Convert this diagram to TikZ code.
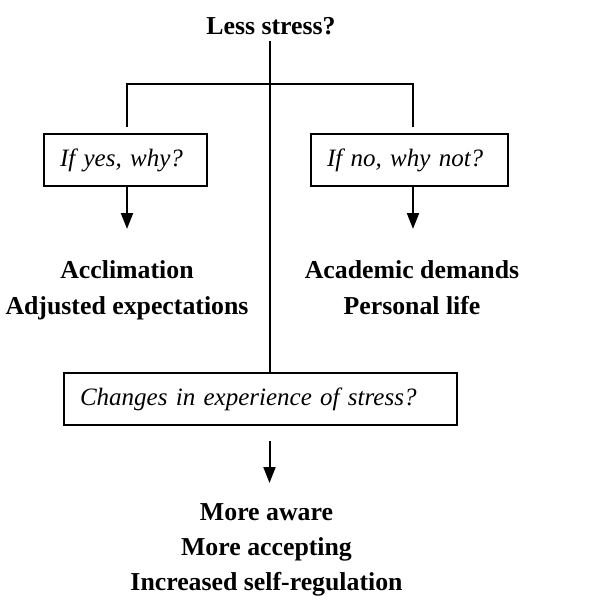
\documentclass[tikz,border=0pt]{standalone}
\usepackage{fontspec}
\setmainfont{Liberation Serif}
\usetikzlibrary{arrows.meta}

\tikzset{
  qbox/.style={draw, line width=2pt, inner xsep=16pt, inner ysep=0pt,
    minimum height=52pt, align=left, font=\fontsize{25}{30}\selectfont\itshape},
  result/.style={align=center, inner sep=0pt,
    font=\fontsize{25.8}{36}\selectfont\bfseries},
  link/.style={line width=2pt},
  arr/.style={line width=2pt, -{Triangle[length=16pt, width=12pt]}}
}

\begin{document}
\begin{tikzpicture}[x=1pt, y=-1pt]
  \useasboundingbox (0,0) rectangle (597,603);

  % title
  \node[result, anchor=base] (top) at (271,34) {Less stress?};

  % question boxes
  \node[qbox, text width=131pt] (yes) at (125.5,160) {If yes, why?};
  \node[qbox, text width=165pt] (no) at (409.5,160) {If no, why not?};
  \node[qbox, text width=361pt] (chg) at (260.5,399) {Changes in experience of stress?};

  % answers
  \node[result, anchor=north] (yesres) at (127,260) {Acclimation\\Adjusted expectations};
  \node[result, anchor=north] (nores) at (412,260) {Academic demands\\Personal life};
  \node[result, anchor=north, font=\fontsize{25.8}{35}\selectfont\bfseries] (chgres) at (266.5,503)
    {More aware\\More accepting\\Increased self-regulation};

  % branch points
  \coordinate (hub) at (269.5,84);
  \coordinate (lbr) at (127,84);
  \coordinate (rbr) at (413,84);

  % trunk and branches
  \draw[link] ([yshift=-6pt]top.south -| hub) -- (chg.north -| hub);
  \draw[link, shorten <=6pt, shorten >=6pt] (yes.north -| lbr) -- (lbr) -- (rbr) -- (no.north -| rbr);

  % arrows to the answers
  \draw[arr, shorten >=31pt] (yes.south -| lbr) -- (yesres.north -| lbr);
  \draw[arr, shorten >=31pt] (no.south -| rbr) -- (nores.north -| rbr);
  \draw[arr, shorten <=15pt, shorten >=20pt] (chg.south -| hub) -- (chgres.north -| hub);
\end{tikzpicture}
\end{document}
